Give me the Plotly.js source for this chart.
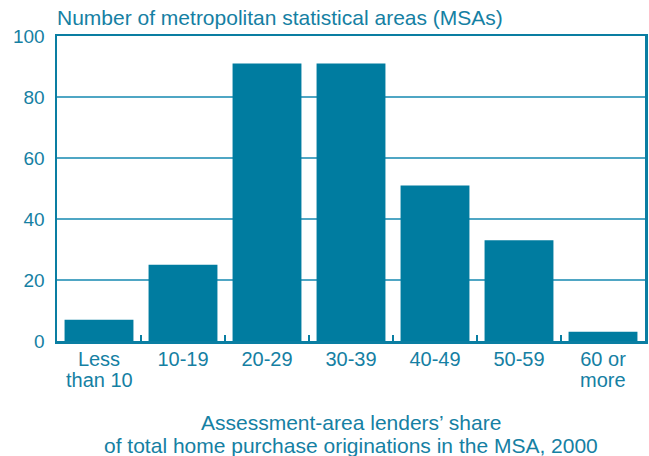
<!DOCTYPE html>
<html><head><meta charset="utf-8">
<script src="https://cdn.plot.ly/plotly-3.0.1.min.js"></script>
<style>body{margin:0;padding:0;background:#fff}#chart{width:649px;height:456px}</style>
</head><body><div id="chart"></div>
<script>
const categories = ["Less<br>than 10", "10-19", "20-29", "30-39", "40-49", "50-59", "60 or<br>more"];
const msaCounts = [7, 25, 91, 91, 51, 33, 3];
const yTicks = [0, 20, 40, 60, 80, 100];
const chartTitle = "Number of metropolitan statistical areas (MSAs)";
const xTitleLines = ["Assessment-area lenders’ share", "of total home purchase originations in the MSA, 2000"];

const textColor = "#1580a3";
const barColor = "#007ca0";
const lineColor = "#0a7ea2";
const gridColor = "#4fa6c4";
const font = "Liberation Sans, Arial, Helvetica, sans-serif";

const firstLines = categories.map(c => c.split("<br>")[0]);
const annotations = [];
categories.forEach(c => {
  const parts = c.split("<br>");
  if (parts.length > 1) {
    annotations.push({
      x: c, xref: "x", y: 0, yref: "paper",
      text: parts[1], showarrow: false,
      xanchor: "center", yanchor: "middle", yshift: -39,
      font: {family: font, size: 20, color: textColor}
    });
  }
});
xTitleLines.forEach((t, i) => {
  annotations.push({
    x: 0.5, xref: "paper", y: 0, yref: "paper",
    text: t, showarrow: false,
    xanchor: "center", yanchor: "middle", yshift: -81 - 23 * i,
    font: {family: font, size: 21, color: textColor}
  });
});

Plotly.newPlot("chart", [{
  type: "bar",
  x: categories,
  y: msaCounts,
  marker: {color: barColor, line: {width: 0}},
  hoverinfo: "x+y"
}], {
  width: 649, height: 456,
  margin: {l: 57, r: 4, t: 36, b: 115},
  paper_bgcolor: "#fff", plot_bgcolor: "#fff",
  bargap: 0.18,
  font: {family: font, color: textColor, size: 20},
  title: {
    text: chartTitle,
    x: 0, xref: "paper", xanchor: "left",
    y: 0.962, yref: "container", yanchor: "middle",
    font: {family: font, size: 21, color: textColor}
  },
  xaxis: {
    type: "category",
    tickvals: categories, ticktext: firstLines,
    showline: true, linecolor: lineColor, linewidth: 2.5, mirror: true,
    showgrid: false, zeroline: false,
    ticks: "inside", tickson: "boundaries", ticklen: 6, tickwidth: 1.5, tickcolor: lineColor,
    ticklabelstandoff: -2,
    tickfont: {family: font, size: 20, color: textColor},
    fixedrange: true
  },
  yaxis: {
    range: [0, 100],
    tickvals: yTicks,
    showline: true, linecolor: lineColor, linewidth: 2.5, mirror: true,
    showgrid: true, gridcolor: gridColor, gridwidth: 1.5,
    zeroline: false, ticks: "", ticklabelstandoff: 6,
    tickfont: {family: font, size: 19, color: textColor},
    fixedrange: true
  },
  annotations: annotations,
  showlegend: false
}, {displayModeBar: false, staticPlot: true});
</script></body></html>
